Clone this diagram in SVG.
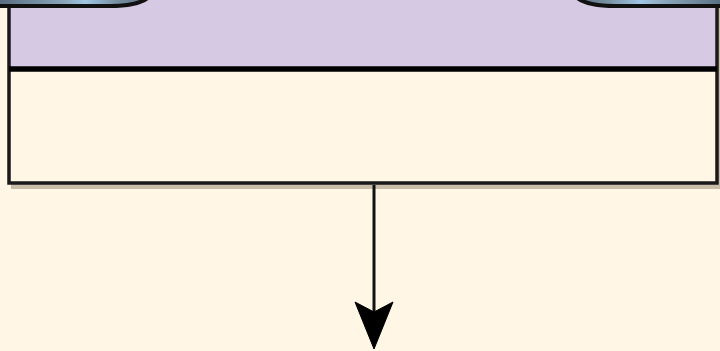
<svg xmlns="http://www.w3.org/2000/svg" width="720" height="351" viewBox="0 0 720 351">
  <defs>
    <linearGradient id="capL" x1="0" y1="0" x2="1" y2="0">
      <stop offset="0" stop-color="#4a5e6e"/>
      <stop offset="0.5" stop-color="#8aa6bb"/>
      <stop offset="0.62" stop-color="#9fc6e3"/>
      <stop offset="0.8" stop-color="#7891a3"/>
      <stop offset="1" stop-color="#5a6d7b"/>
    </linearGradient>
    <linearGradient id="capR" x1="0" y1="0" x2="1" y2="0">
      <stop offset="0" stop-color="#5a6d7b"/>
      <stop offset="0.2" stop-color="#7891a3"/>
      <stop offset="0.4" stop-color="#9fc6e3"/>
      <stop offset="0.55" stop-color="#8aa6bb"/>
      <stop offset="1" stop-color="#4a5e6e"/>
    </linearGradient>
  </defs>
  <style>
    .edge { stroke: #111; stroke-width: 3; fill: none; }
    .head { fill: #000; stroke: #000; stroke-width: 1; stroke-linejoin: miter; }
  </style>
  <rect x="0" y="0" width="720" height="351" fill="#fff6e6"/>
  <g id="container">
    <rect x="11" y="-10" width="712" height="199" fill="#c9bda9"/>
    <rect x="9" y="-10" width="708" height="79" fill="#d6c9e3"/>
    <rect x="9" y="69" width="708" height="114" fill="#fff6e6"/>
    <path d="M 9 -10 L 9 183 L 717 183 L 717 -10" fill="none" stroke="#1a1a1a" stroke-width="3.5"/>
    <line x1="9" y1="69" x2="717" y2="69" stroke="#000" stroke-width="5.5"/>
  </g>
  <g id="cap-left">
    <path d="M -20 -30 L 150 -30 L 150 -4 Q 140 6 110 6 L -20 6 Z" fill="url(#capL)" stroke="#111" stroke-width="4"/>
  </g>
  <g id="cap-right">
    <path d="M 740 -30 L 575 -30 L 575 -4 Q 585 6 615 6 L 740 6 Z" fill="url(#capR)" stroke="#111" stroke-width="4"/>
  </g>
  <g id="connectors">
    <line class="edge" x1="374" y1="185" x2="374" y2="312"/>
    <polygon class="head" points="355,302 374,312 393,302 374,349"/>
  </g>
</svg>
